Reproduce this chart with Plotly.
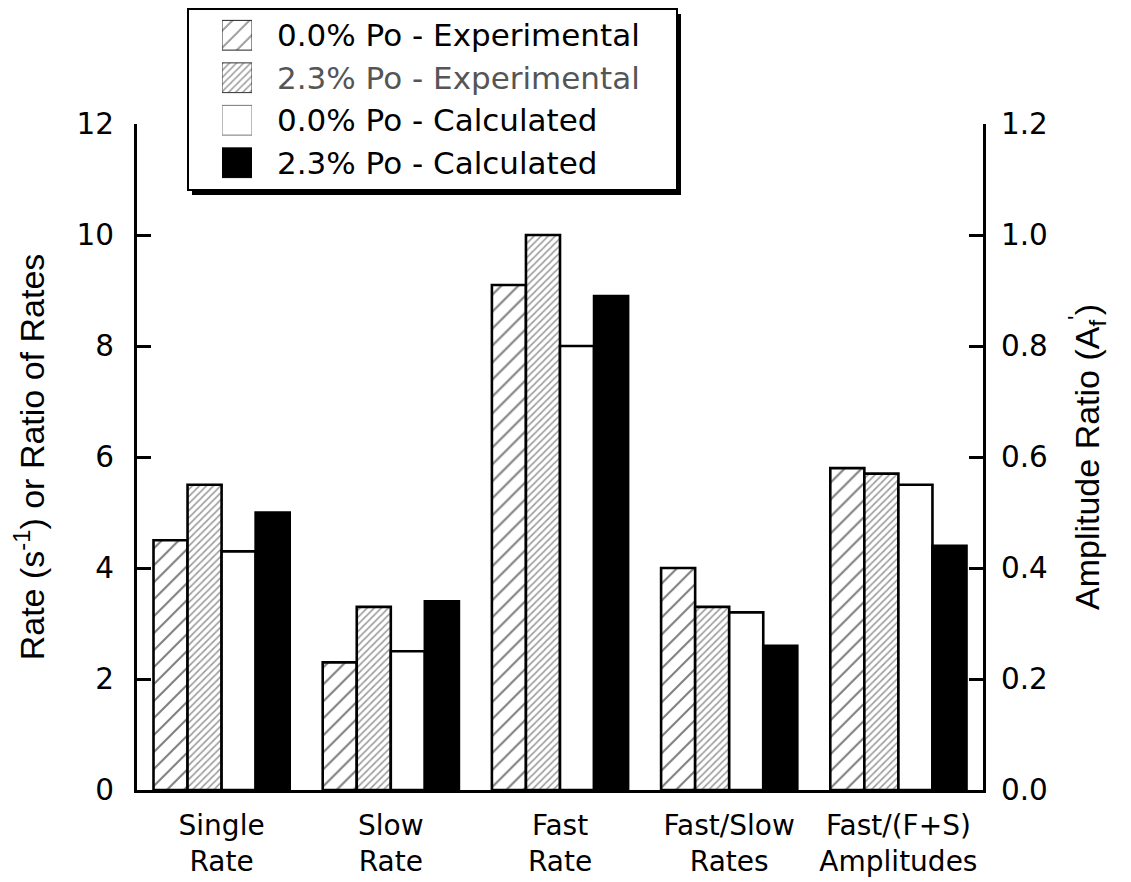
import plotly.graph_objects as go

categories = ["Single<br>Rate", "Slow<br>Rate", "Fast<br>Rate", "Fast/Slow<br>Rates", "Fast/(F+S)<br>Amplitudes"]
series_names = ["0.0% Po - Experimental", "2.3% Po - Experimental",
                "0.0% Po - Calculated", "2.3% Po - Calculated"]
# rates (left axis) for the first four categories
rates_exp_00 = [4.5, 2.3, 9.1, 4.0]
rates_exp_23 = [5.5, 3.3, 10.0, 3.3]
rates_calc_00 = [4.3, 2.5, 8.0, 3.2]
rates_calc_23 = [5.0, 3.4, 8.9, 2.6]
# amplitude ratios (right axis) for the last category
amp_exp_00 = [0.58]
amp_exp_23 = [0.57]
amp_calc_00 = [0.55]
amp_calc_23 = [0.44]
left_ticks = [0, 2, 4, 6, 8, 10, 12]
right_ticks = [0, 0.2, 0.4, 0.6, 0.8, 1.0, 1.2]

rates = [rates_exp_00, rates_exp_23, rates_calc_00, rates_calc_23]
amps = [amp_exp_00, amp_exp_23, amp_calc_00, amp_calc_23]

SANS = "Liberation Sans, Arial, Helvetica, sans-serif"
WIDE = "DejaVu Sans, Verdana, sans-serif"

# figure geometry (pixels of the plotly div)
W, H = 1123, 874
ML, MR, MT, MB = 129, 148, 0, 92
PW, PH = W - ML - MR, H - MT - MB


def px_x(px):
    return (px - ML) / PW


def px_y(py):
    return (H - MB - py) / PH


fills = ["white", "white", "white", "black"]
pat_shapes = ["/", "/", "", ""]
pat_sizes = [12, 5, 8, 8]
pat_solid = [0.17, 0.33, 0.3, 0.3]
pat_fg = ["#000", "#3a3a3a", "#000", "#000"]
text_colors = ["black", "#555", "black", "black"]


def marker_for(i, lw=2.6, lc="black"):
    m = dict(color=fills[i], line=dict(color=lc, width=lw))
    if pat_shapes[i]:
        m["pattern"] = dict(shape=pat_shapes[i], size=pat_sizes[i], solidity=pat_solid[i],
                            fgcolor=pat_fg[i], bgcolor="white")
    return m


fig = go.Figure()
for i in range(4):
    fig.add_trace(go.Bar(x=categories[:4], y=rates[i], name=series_names[i],
                         marker=marker_for(i), offsetgroup=str(i), alignmentgroup="a",
                         showlegend=False, yaxis="y", xaxis="x"))
for i in range(4):
    fig.add_trace(go.Bar(x=categories[4:], y=amps[i], name=series_names[i],
                         marker=marker_for(i), offsetgroup=str(i), alignmentgroup="a",
                         showlegend=False, yaxis="y2", xaxis="x"))

# legend swatches drawn as bars on a small legend axis
fig.add_trace(go.Bar(
    y=series_names, x=[1, 1, 1, 1], orientation="h", xaxis="x3", yaxis="y3",
    width=0.7, showlegend=False, hoverinfo="skip",
    marker=dict(color=fills,
                line=dict(color=["#222", "#333", "#777", "#000"], width=1),
                pattern=dict(shape=pat_shapes, size=pat_sizes, solidity=pat_solid,
                             fgcolor=pat_fg, bgcolor="white")),
))

# legend box with drop shadow
box = dict(x0=180, x1=669, y0=1, y1=182)
shapes = [
    dict(type="rect", xref="paper", yref="paper", layer="below",
         x0=px_x(box["x0"] + 4), x1=px_x(box["x1"] + 4), y0=px_y(box["y1"] + 5), y1=px_y(box["y0"] + 5),
         fillcolor="black", line=dict(width=0)),
    dict(type="rect", xref="paper", yref="paper", layer="below",
         x0=px_x(box["x0"]), x1=px_x(box["x1"]), y0=px_y(box["y1"]), y1=px_y(box["y0"]),
         fillcolor="white", line=dict(color="black", width=2)),
]

annotations = [
    dict(x=px_x(267), xref="paper", y=series_names[i], yref="y3", xanchor="left", yanchor="middle",
         text=series_names[i], showarrow=False,
         font=dict(family=WIDE, size=31, color=text_colors[i]))
    for i in range(4)
]

main_top = px_y(116)
fig.update_layout(
    width=W, height=H,
    margin=dict(l=ML, r=MR, t=MT, b=MB, autoexpand=False),
    plot_bgcolor="rgba(0,0,0,0)", paper_bgcolor="white",
    font=dict(family=SANS, size=30, color="black"),
    barmode="group", bargap=0.195, bargroupgap=0,
    showlegend=False,
    shapes=shapes, annotations=annotations,
    xaxis=dict(categoryorder="array", categoryarray=categories, domain=[0, 1], anchor="y",
               range=[-0.5, 4.5], showline=True, linewidth=3, linecolor="black",
               ticks="", showgrid=False, zeroline=False,
               tickfont=dict(family=WIDE, size=28), ticklabelstandoff=8),
    yaxis=dict(range=[0, 12], tickvals=left_ticks, domain=[0, main_top], anchor="x",
               showline=True, linewidth=3, linecolor="black",
               ticks="inside", ticklen=14, tickwidth=3, tickcolor="black",
               showgrid=False, zeroline=False, ticklabelstandoff=14,
               tickfont=dict(family=WIDE, size=29.5),
               title=dict(text="Rate (s<sup>-1</sup>) or Ratio of Rates", standoff=26,
                          font=dict(family=SANS, size=34))),
    yaxis2=dict(range=[0, 1.2], tickvals=right_ticks,
                tickformat=".1f", overlaying="y", side="right", anchor="x",
                showline=True, linewidth=3, linecolor="black",
                ticks="inside", ticklen=14, tickwidth=3, tickcolor="black",
                showgrid=False, zeroline=False, ticklabelstandoff=9,
                tickfont=dict(family=WIDE, size=29.5),
                title=dict(text="Amplitude Ratio (A<sub>f</sub><sup>'</sup>)", standoff=29,
                           font=dict(family=SANS, size=34))),
    xaxis3=dict(domain=[px_x(214), px_x(244)], anchor="y3", range=[0, 1], visible=False,
                fixedrange=True),
    yaxis3=dict(domain=[px_y(176), px_y(6)], anchor="x3", type="category",
                categoryorder="array", categoryarray=series_names,
                range=[3.5, -0.5], visible=False, fixedrange=True),
)

fig.write_html("out.html")
